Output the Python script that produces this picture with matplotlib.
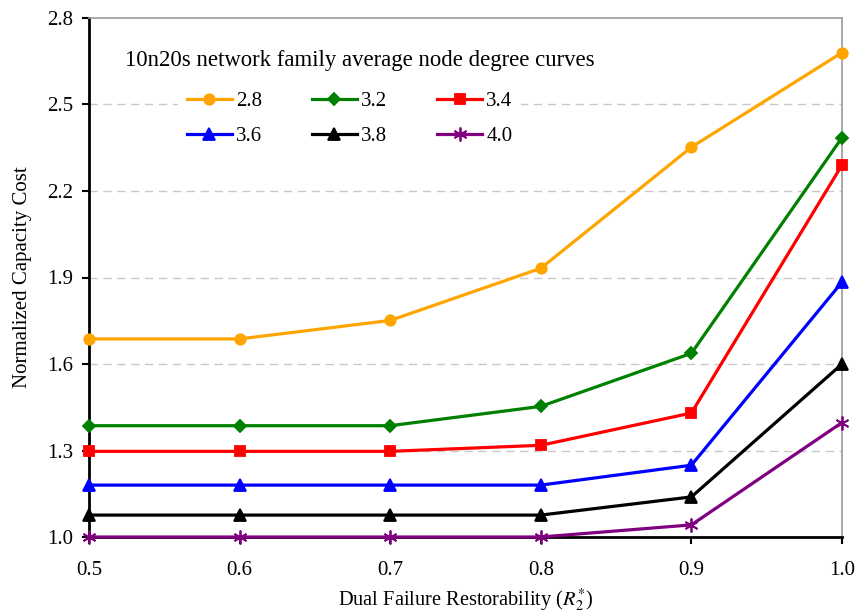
import numpy as np
import matplotlib
matplotlib.use("Agg")
import matplotlib.pyplot as plt

plt.rcParams['font.family'] = ['Liberation Serif', 'DejaVu Serif']
plt.rcParams['mathtext.fontset'] = 'stix'

# restorability levels on the x axis
restorability = [0.5, 0.6, 0.7, 0.8, 0.9, 1.0]

# normalized capacity cost for each average node degree
deg_28 = [1.687, 1.687, 1.751, 1.932, 2.352, 2.680]
deg_32 = [1.386, 1.386, 1.386, 1.453, 1.637, 2.385]
deg_34 = [1.297, 1.297, 1.297, 1.318, 1.430, 2.290]
deg_36 = [1.180, 1.180, 1.180, 1.180, 1.249, 1.884]
deg_38 = [1.076, 1.076, 1.076, 1.076, 1.139, 1.600]
deg_40 = [1.000, 1.000, 1.000, 1.000, 1.042, 1.397]

labels = ["2.8", "3.2", "3.4", "3.6", "3.8", "4.0"]
series = [deg_28, deg_32, deg_34, deg_36, deg_38, deg_40]
colors = ["#FFA500", "#008000", "#FF0000", "#0000FF", "#000000", "#800080"]
markers = ["o", "D", "s", "^", "^", (6, 2, 0)]
msizes = [7.5, 6.5, 7.5, 8.5, 8.5, 10]

fig = plt.figure(figsize=(8.57, 6.16), dpi=100)
ax = fig.add_axes([89 / 857, 1 - 537 / 616, (842 - 89) / 857, (537 - 18) / 616])

handles = []
for vals, lab, c, m, ms in zip(series, labels, colors, markers, msizes):
    h, = ax.plot(restorability, vals, color=c, marker=m, markersize=ms, lw=2.3,
                 label=lab, clip_on=False, zorder=3, markeredgewidth=1.3)
    handles.append(h)

ax.set_xlim(0.5, 1.0)
ax.set_ylim(1.0, 2.8)
ax.set_xticks(restorability)
ax.set_xticklabels([f"{v:.1f}" for v in restorability])
yt = [1.0, 1.3, 1.6, 1.9, 2.2, 2.5, 2.8]
ax.set_yticks(yt)
ax.set_yticklabels([f"{v:.1f}" for v in yt])
ax.tick_params(labelsize=15, direction='out', length=5, width=1.5)
ax.tick_params(axis='x', pad=12)
ax.tick_params(axis='y', pad=6.5)

for y in yt[1:-1]:
    ax.axhline(y, color='#c8c8c8', lw=1, ls=(0, (6, 4)), zorder=1)

for s in ['left', 'bottom']:
    ax.spines[s].set_linewidth(2)
    ax.spines[s].set_color('black')
for s in ['top', 'right']:
    ax.spines[s].set_linewidth(1.2)
    ax.spines[s].set_color('#999999')

ax.set_ylabel("Normalized Capacity Cost", fontsize=15, labelpad=11)
ax.set_xlabel(r"Dual Failure Restorability ($R_2^{*}$)", fontsize=14.7, labelpad=5)

ax.text(0.36, 0.918, "10n20s network family average node degree curves",
        transform=ax.transAxes, ha='center', va='center', fontsize=16.4)

# legend filled row by row like the original
order = [0, 3, 1, 4, 2, 5]
leg = ax.legend([handles[i] for i in order], [labels[i] for i in order],
                ncol=3, loc='center', bbox_to_anchor=(0.346, 0.806),
                fontsize=15, frameon=True, edgecolor='none',
                facecolor='white', framealpha=1, handlelength=2.16,
                columnspacing=2.4, labelspacing=0.75, handletextpad=0.2,
                borderpad=0.4)
leg.set_zorder(2)

fig.savefig("out.png", dpi=100)
